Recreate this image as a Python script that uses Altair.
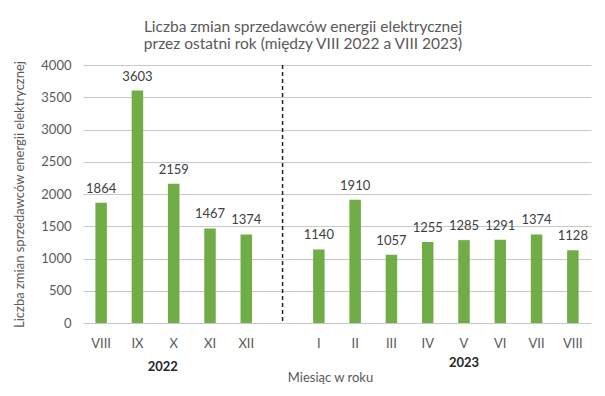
import altair as alt
import pandas as pd

months_2022 = ["VIII", "IX", "X", "XI", "XII"]
values_2022 = [1864, 3603, 2159, 1467, 1374]
months_2023 = ["I", "II", "III", "IV", "V", "VI", "VII", "VIII"]
values_2023 = [1140, 1910, 1057, 1255, 1285, 1291, 1374, 1128]
years = ["2022", "2023"]
y_ticks = [0, 500, 1000, 1500, 2000, 2500, 3000, 3500, 4000]

keys_2022 = [f"{m} 2022" for m in months_2022]
keys_2023 = [f"{m} 2023" for m in months_2023]
domain_keys = keys_2022 + ["gap"] + keys_2023

df = pd.DataFrame({"key": keys_2022 + keys_2023, "value": values_2022 + values_2023})
df_rule = pd.DataFrame({"key": ["gap"], "value": [y_ticks[-1]], "base": [y_ticks[0]]})

FONT = "Lato"
GRAY = "#595959"
W, H = 508, 258

x_enc = alt.X(
    "key:N",
    sort=domain_keys,
    scale=alt.Scale(domain=domain_keys, paddingInner=0, paddingOuter=0),
    axis=alt.Axis(
        title="Miesiąc w roku",
        labelExpr="datum.value == 'gap' ? '' : split(datum.value, ' ')[0]",
        labelAngle=0,
        ticks=False,
        domain=False,
        labelPadding=14,
        labelFontSize=13,
        labelColor=GRAY,
        labelFont=FONT,
        titleFont=FONT,
        titleFontSize=13,
        titleColor=GRAY,
        titleFontWeight="normal",
        titlePadding=21,
        titleX=247,
    ),
)
y_enc = alt.Y(
    "value:Q",
    scale=alt.Scale(domain=[0, 4000], nice=False),
    axis=alt.Axis(
        title="Liczba zmian  sprzedawców energii elektrycznej",
        values=y_ticks,
        format="d",
        labelOverlap=False,
        ticks=False,
        domain=False,
        grid=True,
        gridColor="#C8C8C8",
        gridWidth=1,
        gridOpacity=1,
        labelPadding=12,
        labelFontSize=13,
        labelColor=GRAY,
        labelFont=FONT,
        titleFont=FONT,
        titleFontSize=13,
        titleColor=GRAY,
        titleFontWeight="normal",
        titlePadding=14,
    ),
)

base = alt.Chart(df).encode(x=x_enc, y=y_enc)

bars = base.mark_bar(size=11.5, color="#70AD47")

labels = base.mark_text(
    dy=-14, baseline="middle", fontSize=13, font=FONT, color="#404040"
).encode(text="value:Q")

rule = alt.Chart(df_rule).mark_rule(
    strokeDash=[4, 3], color="#262626", strokeWidth=1.5
).encode(x=x_enc, y=y_enc, y2="base:Q")

year22 = alt.Chart(pd.DataFrame({"key": ["X 2022"], "year": [years[0]]})).mark_text(
    fontWeight="bold", fontSize=13, font=FONT, color="#262626", dx=-11, baseline="middle"
).encode(x=x_enc, y=alt.value(H + 44), text="year:N")

year23 = alt.Chart(pd.DataFrame({"key": ["V 2023"], "year": [years[1]]})).mark_text(
    fontWeight="bold", fontSize=13, font=FONT, color="#262626", baseline="middle"
).encode(x=x_enc, y=alt.value(H + 40), text="year:N")

chart = alt.layer(bars, rule, labels, year22, year23).properties(
    width=W,
    height=H,
    title=alt.TitleParams(
        ["Liczba zmian sprzedawców energii elektrycznej", "przez ostatni rok (między VIII 2022 a VIII 2023)"],
        font=FONT,
        fontSize=15.5,
        fontWeight="normal",
        color=GRAY,
        lineHeight=17,
        anchor="middle",
        dx=-34,
        offset=6,
    ),
    autosize=alt.AutoSizeParams(type="none"),
    padding={"left": 75, "top": 57, "right": 6, "bottom": 65},
    background="white",
).configure_view(stroke=None)

chart.save("out.html", embed_options={"renderer": "svg", "actions": False})
